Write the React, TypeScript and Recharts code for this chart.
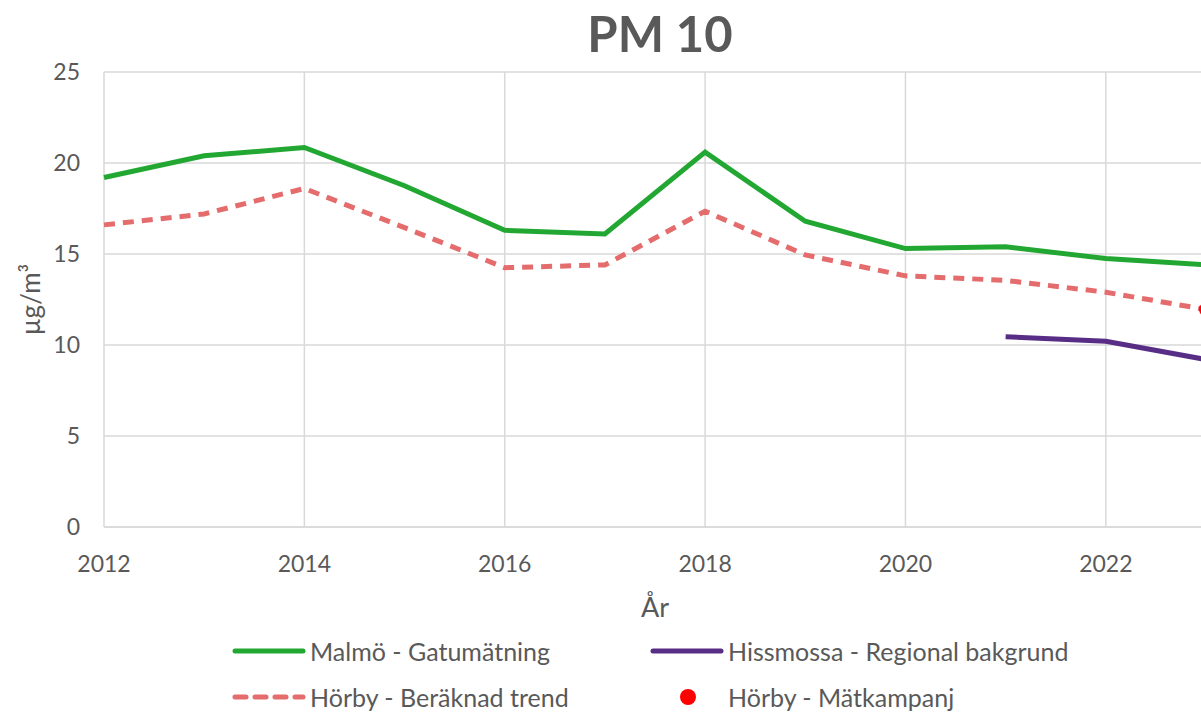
import { LineChart, Line, XAxis, YAxis, CartesianGrid } from 'recharts'

const years = [2012, 2013, 2014, 2015, 2016, 2017, 2018, 2019, 2020, 2021, 2022, 2023]
const malmo = [19.2, 20.4, 20.85, 18.75, 16.3, 16.1, 20.6, 16.8, 15.3, 15.4, 14.75, 14.4]
const horbyTrend = [16.6, 17.2, 18.6, 16.45, 14.25, 14.4, 17.35, 14.95, 13.8, 13.55, 12.9, 11.95]
const hissmossa = [null, null, null, null, null, null, null, null, null, 10.45, 10.2, 9.2]
const horbyMatkampanj = [null, null, null, null, null, null, null, null, null, null, null, 11.95]

const xTicks = [2012, 2014, 2016, 2018, 2020, 2022]
const yTicks = [0, 5, 10, 15, 20, 25]

const FONT = 'Lato, "Open Sans", sans-serif'
const TEXT = '#595959'

const legendItems = [
  { label: 'Malmö - Gatumätning', color: '#22a832', kind: 'line' },
  { label: 'Hissmossa - Regional bakgrund', color: '#582d86', kind: 'line' },
  { label: 'Hörby - Beräknad trend', color: '#e46c6c', kind: 'dash' },
  { label: 'Hörby - Mätkampanj', color: '#ff0000', kind: 'dot' },
]

const data = years.map((year, i) => ({
  year,
  malmo: malmo[i],
  horby: horbyTrend[i],
  hissmossa: hissmossa[i],
  matkampanj: horbyMatkampanj[i],
}))

function LegendBox() {
  return (
    <div style={{ position: 'absolute', left: 231, top: 637, display: 'grid', gridTemplateColumns: '418px 420px', rowGap: 18 }}>
      {legendItems.map((item) => (
        <div key={item.label} style={{ display: 'flex', alignItems: 'center', height: 28 }}>
          <svg width={79} height={20}>
            {item.kind === 'dot' ? (
              <circle cx={39} cy={10} r={8} fill={item.color} />
            ) : (
              <line
                x1={4}
                x2={72}
                y1={10}
                y2={10}
                stroke={item.color}
                strokeWidth={5}
                strokeLinecap="round"
                strokeDasharray={item.kind === 'dash' ? '11 9' : undefined}
              />
            )}
          </svg>
          <span style={{ fontFamily: FONT, fontSize: 25, color: TEXT }}>{item.label}</span>
        </div>
      ))}
    </div>
  )
}

export default function App() {
  return (
    <div style={{ position: 'fixed', left: 0, top: 0, width: 1201, height: 715, overflow: 'hidden', background: '#fff' }}>
      <div
        style={{
          position: 'absolute',
          left: 0,
          width: 1320,
          top: 4,
          textAlign: 'center',
          fontFamily: FONT,
          fontWeight: 700,
          fontSize: 49,
          color: TEXT,
        }}
      >
        PM 10
      </div>
      <div style={{ position: 'absolute', left: 0, top: 0 }}>
        <LineChart width={1320} height={715} data={data} margin={{ top: 72, right: 114, bottom: 0, left: 0 }}>
          <CartesianGrid stroke="#d9d9d9" strokeWidth={1.5} verticalValues={xTicks} />
          <XAxis
            dataKey="year"
            type="number"
            domain={[2012, 2023]}
            ticks={xTicks}
            tickSize={0}
            tickMargin={29}
            axisLine={{ stroke: '#d9d9d9', strokeWidth: 1.5 }}
            tick={{ fontSize: 23, fill: TEXT, fontFamily: FONT }}
            height={188}
            label={({ viewBox }: any) => (
              <text x={viewBox.x + viewBox.width / 2} y={617} textAnchor="middle" fontSize={27} fill={TEXT} fontFamily={FONT}>
                År
              </text>
            )}
          />
          <YAxis
            domain={[0, 25]}
            ticks={yTicks}
            width={104}
            tickSize={0}
            tickMargin={24}
            axisLine={false}
            tick={{ fontSize: 23, fill: TEXT, fontFamily: FONT }}
            label={({ viewBox }: any) => (
              <text
                x={40}
                y={viewBox.y + viewBox.height / 2}
                transform={`rotate(-90 40 ${viewBox.y + viewBox.height / 2})`}
                textAnchor="middle"
                fontSize={26}
                fill={TEXT}
                fontFamily={FONT}
              >
                µg/m³
              </text>
            )}
          />
          <Line dataKey="malmo" stroke="#22a832" strokeWidth={5} dot={false} isAnimationActive={false} />
          <Line dataKey="horby" stroke="#e46c6c" strokeWidth={5} strokeDasharray="11 8" dot={false} isAnimationActive={false} />
          <Line dataKey="hissmossa" stroke="#582d86" strokeWidth={5} dot={false} connectNulls={false} isAnimationActive={false} />
          <Line dataKey="matkampanj" stroke="none" dot={{ r: 7, fill: '#ff0000', stroke: 'none' }} isAnimationActive={false} />
        </LineChart>
      </div>
      <LegendBox />
    </div>
  )
}
